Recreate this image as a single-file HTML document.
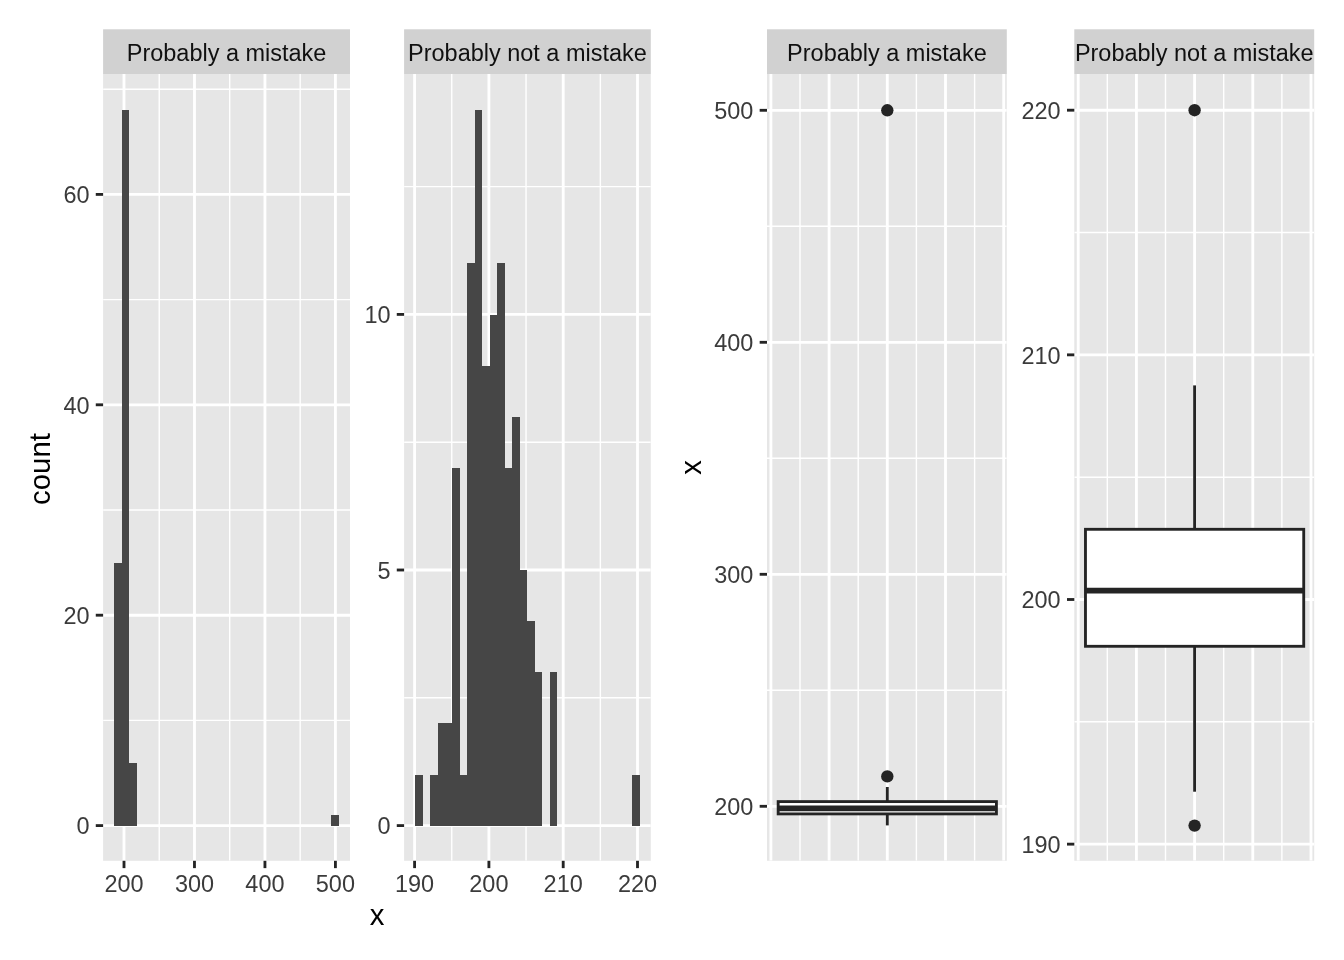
<!DOCTYPE html>
<html lang="en"><head><meta charset="utf-8"><title>Histogram and boxplot of outliers</title>
<style>html,body{margin:0;padding:0;background:#fff}body{width:1344px;height:960px;overflow:hidden}svg{display:block}text{white-space:pre}</style>
</head><body>
<svg width="1344" height="960" viewBox="0 0 1344 960" font-family='"Liberation Sans", Arial, Helvetica, sans-serif'>
<rect width="1344" height="960" fill="#FFFFFF"/>
<rect x="103.1" y="29.3" width="246.9" height="44.7" fill="#D1D1D1"/>
<rect x="103.1" y="74" width="246.9" height="786.8" fill="#E6E6E6"/>
<clipPath id="cp1"><rect x="103.1" y="74" width="246.9" height="786.8"/></clipPath>
<g clip-path="url(#cp1)" stroke="#FFFFFF" fill="none">
<line x1="103.1" x2="350" y1="720.4" y2="720.4" stroke-width="1.42"/>
<line x1="103.1" x2="350" y1="510" y2="510" stroke-width="1.42"/>
<line x1="103.1" x2="350" y1="299.6" y2="299.6" stroke-width="1.42"/>
<line x1="103.1" x2="350" y1="89.2" y2="89.2" stroke-width="1.42"/>
<line x1="159.24" x2="159.24" y1="74" y2="860.8" stroke-width="1.42"/>
<line x1="229.7" x2="229.7" y1="74" y2="860.8" stroke-width="1.42"/>
<line x1="300.18" x2="300.18" y1="74" y2="860.8" stroke-width="1.42"/>
<line x1="103.1" x2="350" y1="825.6" y2="825.6" stroke-width="2.85"/>
<line x1="103.1" x2="350" y1="615.2" y2="615.2" stroke-width="2.85"/>
<line x1="103.1" x2="350" y1="404.8" y2="404.8" stroke-width="2.85"/>
<line x1="103.1" x2="350" y1="194.4" y2="194.4" stroke-width="2.85"/>
<line x1="124" x2="124" y1="74" y2="860.8" stroke-width="2.85"/>
<line x1="194.47" x2="194.47" y1="74" y2="860.8" stroke-width="2.85"/>
<line x1="264.94" x2="264.94" y1="74" y2="860.8" stroke-width="2.85"/>
<line x1="335.41" x2="335.41" y1="74" y2="860.8" stroke-width="2.85"/>
</g>
<text x="226.55" y="61.1" text-anchor="middle" font-size="23.47" fill="#101010">Probably a mistake</text>
<rect x="114" y="563" width="8" height="263" fill="#464646"/>
<rect x="122" y="110" width="7" height="716" fill="#464646"/>
<rect x="129" y="763" width="8" height="63" fill="#464646"/>
<rect x="331" y="815" width="8" height="11" fill="#464646"/>
<line x1="95.77" x2="103.1" y1="825.6" y2="825.6" stroke="#242424" stroke-width="2.85"/>
<text x="89.5" y="834.3" text-anchor="end" font-size="23.47" fill="#3B3B3B">0</text>
<line x1="95.77" x2="103.1" y1="615.2" y2="615.2" stroke="#242424" stroke-width="2.85"/>
<text x="89.5" y="623.9" text-anchor="end" font-size="23.47" fill="#3B3B3B">20</text>
<line x1="95.77" x2="103.1" y1="404.8" y2="404.8" stroke="#242424" stroke-width="2.85"/>
<text x="89.5" y="413.5" text-anchor="end" font-size="23.47" fill="#3B3B3B">40</text>
<line x1="95.77" x2="103.1" y1="194.4" y2="194.4" stroke="#242424" stroke-width="2.85"/>
<text x="89.5" y="203.1" text-anchor="end" font-size="23.47" fill="#3B3B3B">60</text>
<line x1="124" x2="124" y1="860.8" y2="868.13" stroke="#242424" stroke-width="2.85"/>
<text x="124" y="891.7" text-anchor="middle" font-size="23.47" fill="#3B3B3B">200</text>
<line x1="194.47" x2="194.47" y1="860.8" y2="868.13" stroke="#242424" stroke-width="2.85"/>
<text x="194.47" y="891.7" text-anchor="middle" font-size="23.47" fill="#3B3B3B">300</text>
<line x1="264.94" x2="264.94" y1="860.8" y2="868.13" stroke="#242424" stroke-width="2.85"/>
<text x="264.94" y="891.7" text-anchor="middle" font-size="23.47" fill="#3B3B3B">400</text>
<line x1="335.41" x2="335.41" y1="860.8" y2="868.13" stroke="#242424" stroke-width="2.85"/>
<text x="335.41" y="891.7" text-anchor="middle" font-size="23.47" fill="#3B3B3B">500</text>
<rect x="404.1" y="29.3" width="246.7" height="44.7" fill="#D1D1D1"/>
<rect x="404.1" y="74" width="246.7" height="786.8" fill="#E6E6E6"/>
<clipPath id="cp2"><rect x="404.1" y="74" width="246.7" height="786.8"/></clipPath>
<g clip-path="url(#cp2)" stroke="#FFFFFF" fill="none">
<line x1="404.1" x2="650.8" y1="697.8" y2="697.8" stroke-width="1.42"/>
<line x1="404.1" x2="650.8" y1="442.2" y2="442.2" stroke-width="1.42"/>
<line x1="404.1" x2="650.8" y1="186.6" y2="186.6" stroke-width="1.42"/>
<line x1="451.75" x2="451.75" y1="74" y2="860.8" stroke-width="1.42"/>
<line x1="526.05" x2="526.05" y1="74" y2="860.8" stroke-width="1.42"/>
<line x1="600.35" x2="600.35" y1="74" y2="860.8" stroke-width="1.42"/>
<line x1="404.1" x2="650.8" y1="825.6" y2="825.6" stroke-width="2.85"/>
<line x1="404.1" x2="650.8" y1="570" y2="570" stroke-width="2.85"/>
<line x1="404.1" x2="650.8" y1="314.4" y2="314.4" stroke-width="2.85"/>
<line x1="414.6" x2="414.6" y1="74" y2="860.8" stroke-width="2.85"/>
<line x1="488.9" x2="488.9" y1="74" y2="860.8" stroke-width="2.85"/>
<line x1="563.2" x2="563.2" y1="74" y2="860.8" stroke-width="2.85"/>
<line x1="637.5" x2="637.5" y1="74" y2="860.8" stroke-width="2.85"/>
</g>
<text x="527.45" y="61.1" text-anchor="middle" font-size="23.47" fill="#101010">Probably not a mistake</text>
<rect x="415" y="775" width="8" height="51" fill="#464646"/>
<rect x="430" y="775" width="8" height="51" fill="#464646"/>
<rect x="438" y="723" width="7" height="103" fill="#464646"/>
<rect x="445" y="723" width="7" height="103" fill="#464646"/>
<rect x="452" y="468" width="8" height="358" fill="#464646"/>
<rect x="460" y="775" width="7" height="51" fill="#464646"/>
<rect x="467" y="263" width="8" height="563" fill="#464646"/>
<rect x="475" y="110" width="7" height="716" fill="#464646"/>
<rect x="482" y="366" width="8" height="460" fill="#464646"/>
<rect x="490" y="315" width="7" height="511" fill="#464646"/>
<rect x="497" y="263" width="8" height="563" fill="#464646"/>
<rect x="505" y="468" width="7" height="358" fill="#464646"/>
<rect x="512" y="417" width="8" height="409" fill="#464646"/>
<rect x="520" y="570" width="7" height="256" fill="#464646"/>
<rect x="527" y="621" width="8" height="205" fill="#464646"/>
<rect x="535" y="672" width="7" height="154" fill="#464646"/>
<rect x="550" y="672" width="7" height="154" fill="#464646"/>
<rect x="632" y="775" width="8" height="51" fill="#464646"/>
<line x1="396.77" x2="404.1" y1="825.6" y2="825.6" stroke="#242424" stroke-width="2.85"/>
<text x="390.5" y="834.3" text-anchor="end" font-size="23.47" fill="#3B3B3B">0</text>
<line x1="396.77" x2="404.1" y1="570" y2="570" stroke="#242424" stroke-width="2.85"/>
<text x="390.5" y="578.7" text-anchor="end" font-size="23.47" fill="#3B3B3B">5</text>
<line x1="396.77" x2="404.1" y1="314.4" y2="314.4" stroke="#242424" stroke-width="2.85"/>
<text x="390.5" y="323.1" text-anchor="end" font-size="23.47" fill="#3B3B3B">10</text>
<line x1="414.6" x2="414.6" y1="860.8" y2="868.13" stroke="#242424" stroke-width="2.85"/>
<text x="414.6" y="891.7" text-anchor="middle" font-size="23.47" fill="#3B3B3B">190</text>
<line x1="488.9" x2="488.9" y1="860.8" y2="868.13" stroke="#242424" stroke-width="2.85"/>
<text x="488.9" y="891.7" text-anchor="middle" font-size="23.47" fill="#3B3B3B">200</text>
<line x1="563.2" x2="563.2" y1="860.8" y2="868.13" stroke="#242424" stroke-width="2.85"/>
<text x="563.2" y="891.7" text-anchor="middle" font-size="23.47" fill="#3B3B3B">210</text>
<line x1="637.5" x2="637.5" y1="860.8" y2="868.13" stroke="#242424" stroke-width="2.85"/>
<text x="637.5" y="891.7" text-anchor="middle" font-size="23.47" fill="#3B3B3B">220</text>
<text x="377" y="924.6" text-anchor="middle" font-size="29.33" fill="#000000">x</text>
<text transform="translate(50.2,469) rotate(-90)" text-anchor="middle" font-size="29.33" fill="#000000">count</text>
<rect x="767" y="29.3" width="239.8" height="44.7" fill="#D1D1D1"/>
<rect x="767" y="74" width="239.8" height="786.8" fill="#E6E6E6"/>
<clipPath id="cp3"><rect x="767" y="74" width="239.8" height="786.8"/></clipPath>
<g clip-path="url(#cp3)" stroke="#FFFFFF" fill="none">
<line x1="767" x2="1006.8" y1="690.3" y2="690.3" stroke-width="1.42"/>
<line x1="767" x2="1006.8" y1="458.3" y2="458.3" stroke-width="1.42"/>
<line x1="767" x2="1006.8" y1="226.3" y2="226.3" stroke-width="1.42"/>
<line x1="800" x2="800" y1="74" y2="860.8" stroke-width="1.42"/>
<line x1="858.2" x2="858.2" y1="74" y2="860.8" stroke-width="1.42"/>
<line x1="916.4" x2="916.4" y1="74" y2="860.8" stroke-width="1.42"/>
<line x1="974.6" x2="974.6" y1="74" y2="860.8" stroke-width="1.42"/>
<line x1="767" x2="1006.8" y1="806.3" y2="806.3" stroke-width="2.85"/>
<line x1="767" x2="1006.8" y1="574.3" y2="574.3" stroke-width="2.85"/>
<line x1="767" x2="1006.8" y1="342.3" y2="342.3" stroke-width="2.85"/>
<line x1="767" x2="1006.8" y1="110.3" y2="110.3" stroke-width="2.85"/>
<line x1="770.9" x2="770.9" y1="74" y2="860.8" stroke-width="2.85"/>
<line x1="829.1" x2="829.1" y1="74" y2="860.8" stroke-width="2.85"/>
<line x1="887.3" x2="887.3" y1="74" y2="860.8" stroke-width="2.85"/>
<line x1="945.5" x2="945.5" y1="74" y2="860.8" stroke-width="2.85"/>
<line x1="1003.7" x2="1003.7" y1="74" y2="860.8" stroke-width="2.85"/>
</g>
<text x="886.9" y="61.1" text-anchor="middle" font-size="23.47" fill="#101010">Probably a mistake</text>
<circle cx="887.3" cy="110.3" r="6.2" fill="#242424"/>
<circle cx="887.3" cy="776.4" r="6.2" fill="#242424"/>
<line x1="887.3" x2="887.3" y1="801.6" y2="787" stroke="#242424" stroke-width="2.85"/>
<line x1="887.3" x2="887.3" y1="813.9" y2="825.4" stroke="#242424" stroke-width="2.85"/>
<rect x="778.17" y="801.6" width="218.25" height="12.3" fill="#FFFFFF" stroke="#242424" stroke-width="2.85"/>
<line x1="778.17" x2="996.42" y1="808.4" y2="808.4" stroke="#242424" stroke-width="5.7"/>
<line x1="759.67" x2="767" y1="806.3" y2="806.3" stroke="#242424" stroke-width="2.85"/>
<text x="753.4" y="815" text-anchor="end" font-size="23.47" fill="#3B3B3B">200</text>
<line x1="759.67" x2="767" y1="574.3" y2="574.3" stroke="#242424" stroke-width="2.85"/>
<text x="753.4" y="583" text-anchor="end" font-size="23.47" fill="#3B3B3B">300</text>
<line x1="759.67" x2="767" y1="342.3" y2="342.3" stroke="#242424" stroke-width="2.85"/>
<text x="753.4" y="351" text-anchor="end" font-size="23.47" fill="#3B3B3B">400</text>
<line x1="759.67" x2="767" y1="110.3" y2="110.3" stroke="#242424" stroke-width="2.85"/>
<text x="753.4" y="119" text-anchor="end" font-size="23.47" fill="#3B3B3B">500</text>
<rect x="1074.3" y="29.3" width="239.9" height="44.7" fill="#D1D1D1"/>
<rect x="1074.3" y="74" width="239.9" height="786.8" fill="#E6E6E6"/>
<clipPath id="cp4"><rect x="1074.3" y="74" width="239.9" height="786.8"/></clipPath>
<g clip-path="url(#cp4)" stroke="#FFFFFF" fill="none">
<line x1="1074.3" x2="1314.2" y1="721.83" y2="721.83" stroke-width="1.42"/>
<line x1="1074.3" x2="1314.2" y1="477.18" y2="477.18" stroke-width="1.42"/>
<line x1="1074.3" x2="1314.2" y1="232.52" y2="232.52" stroke-width="1.42"/>
<line x1="1107.3" x2="1107.3" y1="74" y2="860.8" stroke-width="1.42"/>
<line x1="1165.5" x2="1165.5" y1="74" y2="860.8" stroke-width="1.42"/>
<line x1="1223.7" x2="1223.7" y1="74" y2="860.8" stroke-width="1.42"/>
<line x1="1281.9" x2="1281.9" y1="74" y2="860.8" stroke-width="1.42"/>
<line x1="1074.3" x2="1314.2" y1="844.15" y2="844.15" stroke-width="2.85"/>
<line x1="1074.3" x2="1314.2" y1="599.5" y2="599.5" stroke-width="2.85"/>
<line x1="1074.3" x2="1314.2" y1="354.85" y2="354.85" stroke-width="2.85"/>
<line x1="1074.3" x2="1314.2" y1="110.2" y2="110.2" stroke-width="2.85"/>
<line x1="1078.2" x2="1078.2" y1="74" y2="860.8" stroke-width="2.85"/>
<line x1="1136.4" x2="1136.4" y1="74" y2="860.8" stroke-width="2.85"/>
<line x1="1194.6" x2="1194.6" y1="74" y2="860.8" stroke-width="2.85"/>
<line x1="1252.8" x2="1252.8" y1="74" y2="860.8" stroke-width="2.85"/>
<line x1="1311" x2="1311" y1="74" y2="860.8" stroke-width="2.85"/>
</g>
<text x="1194.25" y="61.1" text-anchor="middle" font-size="23.47" fill="#101010">Probably not a mistake</text>
<circle cx="1194.6" cy="110.2" r="6.2" fill="#242424"/>
<circle cx="1194.6" cy="825.6" r="6.2" fill="#242424"/>
<line x1="1194.6" x2="1194.6" y1="529.3" y2="385.4" stroke="#242424" stroke-width="2.85"/>
<line x1="1194.6" x2="1194.6" y1="646.3" y2="791.7" stroke="#242424" stroke-width="2.85"/>
<rect x="1085.47" y="529.3" width="218.25" height="117" fill="#FFFFFF" stroke="#242424" stroke-width="2.85"/>
<line x1="1085.47" x2="1303.72" y1="590.7" y2="590.7" stroke="#242424" stroke-width="5.7"/>
<line x1="1066.97" x2="1074.3" y1="844.15" y2="844.15" stroke="#242424" stroke-width="2.85"/>
<text x="1060.7" y="852.85" text-anchor="end" font-size="23.47" fill="#3B3B3B">190</text>
<line x1="1066.97" x2="1074.3" y1="599.5" y2="599.5" stroke="#242424" stroke-width="2.85"/>
<text x="1060.7" y="608.2" text-anchor="end" font-size="23.47" fill="#3B3B3B">200</text>
<line x1="1066.97" x2="1074.3" y1="354.85" y2="354.85" stroke="#242424" stroke-width="2.85"/>
<text x="1060.7" y="363.55" text-anchor="end" font-size="23.47" fill="#3B3B3B">210</text>
<line x1="1066.97" x2="1074.3" y1="110.2" y2="110.2" stroke="#242424" stroke-width="2.85"/>
<text x="1060.7" y="118.9" text-anchor="end" font-size="23.47" fill="#3B3B3B">220</text>
<text transform="translate(701.1,467.5) rotate(-90)" text-anchor="middle" font-size="29.33" fill="#000000">x</text>
</svg>
</body></html>
